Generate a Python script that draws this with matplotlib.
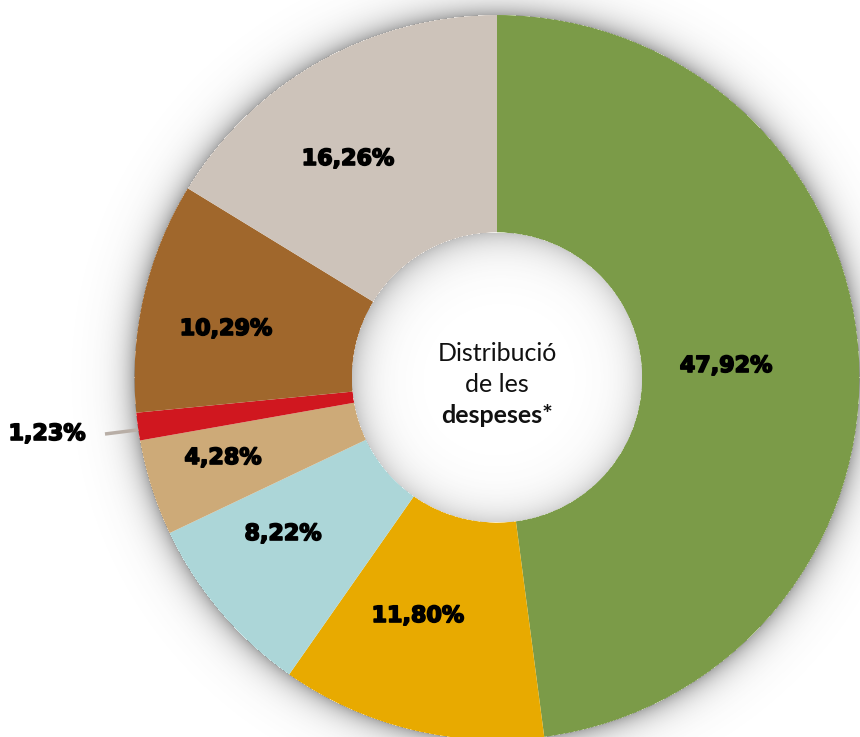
import numpy as np
import matplotlib
matplotlib.use("Agg")
import matplotlib.pyplot as plt
import matplotlib.patheffects as pe
from matplotlib.patches import Wedge, Circle

# ── Data ───────────────────────────────────────────────────────────────────────
shares = [47.92, 11.80, 8.22, 4.28, 1.23, 10.29, 16.26]
labels = ["47,92%", "11,80%", "8,22%", "4,28%", "1,23%", "10,29%", "16,26%"]
colors = ["#7b9b48", "#e8aa00", "#acd6d8", "#cdaa78", "#d0171f", "#a0672c", "#cdc3ba"]
center_lines = ["Distribució", "de les", "despeses*"]

# ── Layout (pixels) ────────────────────────────────────────────────────────────
W, H = 860, 737
CX, CY = 497, 377.5
R_OUT, R_IN = 362.5, 145
label_xy = [(726, 366), (418, 616), (283, 534), (223, 458), (47, 434), (226, 329), (348, 159)]

fig = plt.figure(figsize=(W / 100, H / 100), dpi=100)
ax = fig.add_axes([0, 0, 1, 1])
ax.set_xlim(0, W); ax.set_ylim(H, 0)
ax.set_aspect("equal"); ax.axis("off")

# donut, clockwise from 12 o'clock (y axis points down → angles run clockwise)
start = -90.0
for v, c in zip(shares, colors):
    sweep = v / sum(shares) * 360
    ax.add_patch(Wedge((CX, CY), R_OUT, start, start + sweep, width=R_OUT - R_IN,
                       facecolor=c, edgecolor="none", zorder=2))
    start += sweep
ax.add_patch(Circle((CX, CY), R_IN, facecolor="white", edgecolor="none", zorder=2))

# soft shadows: outer glow around ring, inner shadow in the hole
yy, xx = np.mgrid[0:H, 0:W] + 0.5
d = np.hypot(xx - CX, yy - CY)
alpha = np.zeros_like(d)
out = d > R_OUT
alpha[out] = 0.50 * np.exp(-(d[out] - R_OUT) / 13.0)
inn = d < R_IN
ang = np.arctan2(yy - CY, xx - CX)
inner_strength = 0.26 + 0.12 * np.clip(-np.sin(ang + np.pi / 4), 0, 1)
alpha[inn] = (inner_strength * np.exp(-(R_IN - d) / 16.0))[inn]
rgba = np.zeros((H, W, 4))
rgba[..., :3] = 0.33
rgba[..., 3] = alpha
ax.imshow(rgba, extent=[0, W, H, 0], zorder=3, interpolation="bilinear")

# labels
heavy = [pe.withStroke(linewidth=1.2, foreground="black")]
for (x, y), t in zip(label_xy, labels):
    ax.text(x, y, t, ha="center", va="center", fontsize=16, fontweight="bold",
            family="DejaVu Sans", color="black", zorder=5, path_effects=heavy)

# leader line for the thin red slice
ax.plot([105, 137], [434, 430], color="#b8aea6", lw=2.5, solid_capstyle="butt", zorder=4)

# centre text
for i, t in enumerate(center_lines):
    ax.text(CX, 353 + i * 31, t, ha="center", va="center", fontsize=18,
            family="Lato", fontweight="bold" if i == 2 else "normal",
            color="#111111", zorder=5)

fig.savefig("out.png", dpi=100)
